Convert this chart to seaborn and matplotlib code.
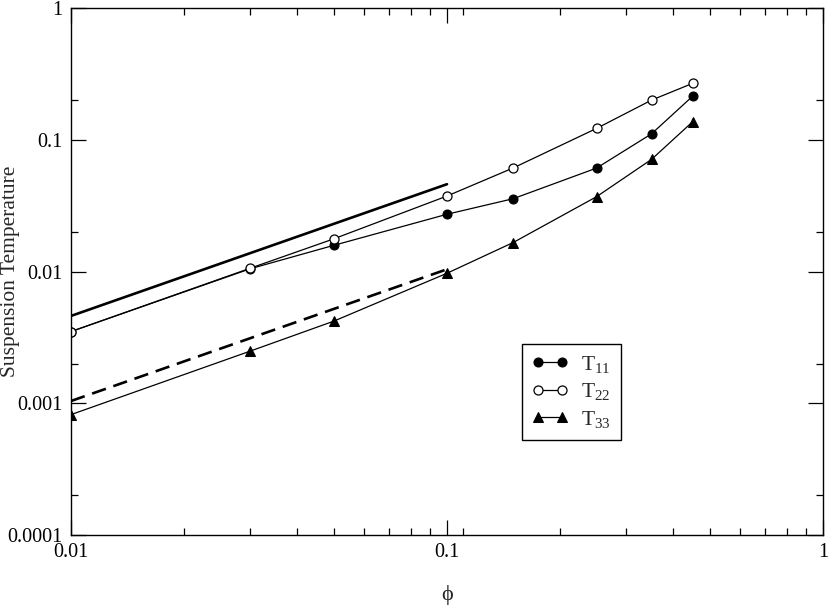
import matplotlib
matplotlib.use("Agg")
import matplotlib.pyplot as plt
import matplotlib.ticker as mticker
import numpy as np
import pandas as pd
import seaborn as sns

phi = [0.01, 0.03, 0.05, 0.1, 0.15, 0.25, 0.35, 0.45]
T11 = [0.0035, 0.0105, 0.0158, 0.0272, 0.0357, 0.061, 0.111, 0.214]
T22 = [0.0035, 0.0106, 0.0177, 0.0374, 0.0611, 0.122, 0.200, 0.268]
T33 = [0.00082, 0.00249, 0.0042, 0.0097, 0.0166, 0.037, 0.071, 0.137]

ref_x = [0.01, 0.1]
ref_solid = [0.0046, 0.046]
ref_dashed = [0.00104, 0.0104]

y_ticks = [0.0001, 0.001, 0.01, 0.1, 1]
y_tick_labels = ["0.0001", "0.001", "0.01", "0.1", "1"]
x_ticks = [0.01, 0.1, 1]
x_tick_labels = ["0.01", "0.1", "1"]
x_minor = [m * d for d in (0.01, 0.1) for m in range(2, 10)] + [0.11]
y_minor = [2 * d for d in (0.0001, 0.001, 0.01, 0.1)]

sns.set_style("ticks")
plt.rcParams['font.family'] = ['Liberation Serif', 'DejaVu Serif']
plt.rcParams['mathtext.fontset'] = 'custom'
plt.rcParams['mathtext.rm'] = 'Liberation Serif'
plt.rcParams['mathtext.it'] = 'Liberation Serif:italic'

fig = plt.figure(figsize=(8.3, 6.07), dpi=100)
ax = fig.add_axes([0.0855, 0.1186, 0.9916 - 0.0855, 0.9868 - 0.1186])

df_ref = pd.DataFrame({"x": ref_x, "solid": ref_solid, "dashed": ref_dashed})
sns.lineplot(data=df_ref, x="x", y="solid", ax=ax, color="black", linewidth=1.9)
sns.lineplot(data=df_ref, x="x", y="dashed", ax=ax, color="black", linewidth=1.9,
             linestyle=(0, (5.5, 3)))

df = pd.DataFrame({"phi": phi, "T11": T11, "T22": T22, "T33": T33})
sns.lineplot(data=df, x="phi", y="T33", ax=ax, color="black", linewidth=0.9,
             marker="^", markersize=7.5, markerfacecolor="black", markeredgecolor="black",
             label=r"T$_{\mathrm{33}}$")
sns.lineplot(data=df, x="phi", y="T11", ax=ax, color="black", linewidth=0.9,
             marker="o", markersize=6.5, markerfacecolor="black", markeredgecolor="black",
             label=r"T$_{\mathrm{11}}$")
sns.lineplot(data=df, x="phi", y="T22", ax=ax, color="black", linewidth=0.9,
             marker="o", markersize=6.5, markerfacecolor="white", markeredgecolor="black",
             markeredgewidth=0.9, label=r"T$_{\mathrm{22}}$")

ax.set_xscale("log")
ax.set_yscale("log")
ax.set_xlim(0.01, 1)
ax.set_ylim(0.0001, 1)

ax.xaxis.set_major_locator(mticker.FixedLocator(x_ticks))
ax.xaxis.set_major_formatter(mticker.FixedFormatter(x_tick_labels))
ax.yaxis.set_major_locator(mticker.FixedLocator(y_ticks))
ax.yaxis.set_major_formatter(mticker.FixedFormatter(y_tick_labels))
ax.xaxis.set_minor_locator(mticker.FixedLocator(x_minor))
ax.yaxis.set_minor_locator(mticker.FixedLocator(y_minor))
ax.xaxis.set_minor_formatter(mticker.NullFormatter())
ax.yaxis.set_minor_formatter(mticker.NullFormatter())

ax.tick_params(which="both", direction="in", top=True, right=True, colors="black",
               labelsize=14.5, width=0.9)
ax.tick_params(which="major", length=11, pad=6)
ax.tick_params(which="minor", length=5)
for s in ax.spines.values():
    s.set_linewidth(1.0)
    s.set_color("black")

ax.set_xlabel("ϕ", fontsize=16)
ax.xaxis.label.set_va("center")
ax.xaxis.set_label_coords(0.5, -0.114)
ax.set_ylabel("Suspension Temperature", fontsize=15.5)
ax.yaxis.label.set_va("center")
ax.yaxis.set_label_coords(-0.081, 0.5)

handles, labels = ax.get_legend_handles_labels()
want = [r"T$_{\mathrm{11}}$", r"T$_{\mathrm{22}}$", r"T$_{\mathrm{33}}$"]
order = [labels.index(l) for l in want]
leg = ax.legend([handles[i] for i in order], [labels[i] for i in order],
                loc="upper left", bbox_to_anchor=(0.6, 0.362), numpoints=2,
                fontsize=15.5, frameon=True, fancybox=False, edgecolor="black",
                framealpha=1, handlelength=1.7, borderpad=0.45, labelspacing=0.3,
                handletextpad=0.6, borderaxespad=0)
leg.get_frame().set_linewidth(1.0)

fig.savefig("out.png", dpi=100)
